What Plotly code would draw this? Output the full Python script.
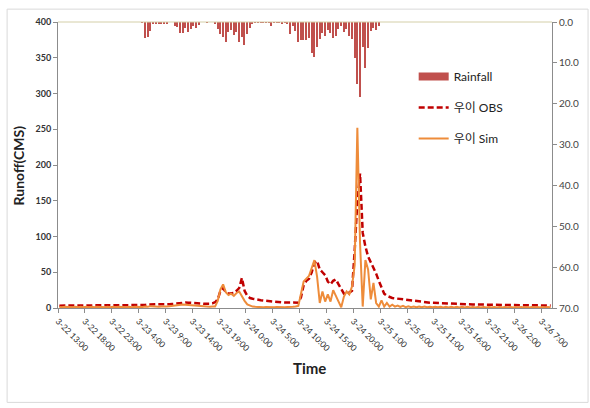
import plotly.graph_objects as go

# ---- data (half-hourly, 3-22 13:00 onward) ----
tick_labels = ["3-22 13:00", "3-22 18:00", "3-22 23:00", "3-23 4:00", "3-23 9:00",
               "3-23 14:00", "3-23 19:00", "3-24 0:00", "3-24 5:00", "3-24 10:00",
               "3-24 15:00", "3-24 20:00", "3-25 1:00", "3-25 6:00", "3-25 11:00",
               "3-25 16:00", "3-25 21:00", "3-26 2:00", "3-26 7:00"]

rainfall = (
    [0] * 30 +
    [0, 0.2, 3.9, 3.6, 2.2, 0.5, 0.4, 0.6, 0.5, 0.6] +
    [0.4, 0, 0, 1.0, 1.2, 2.8, 2.6, 1.5, 2.4, 1.8] +
    [1.0, 1.5, 0.8, 0, 0, 0.1, 0, 0, 0.5, 1.8] +
    [3.0, 3.6, 4.8, 2.4, 2.0, 3.2, 2.4, 5.0, 3.6, 5.6] +
    [3.0, 1.4, 0.5, 0.2, 0.2, 0.2, 0.1, 0.2, 0.2, 1.0] +
    [0.2, 0.2, 0.1, 0.3, 0.1, 0.3, 3.0, 1.0, 2.2, 4.9] +
    [4.5, 4.5, 4.5, 4.0, 7.5, 8.6, 6.1, 4.2, 2.6, 3.4] +
    [2.0, 2.6, 3.8, 3.4, 1.8, 1.0, 2.4, 1.8, 3.4, 4.2] +
    [8.7, 15.1, 18.4, 6.1, 11.2, 6.3, 2.2, 1.4, 2.0, 1.0] +
    [0] * 64
)

obs = (
    [3.3] * 10 +
    [3.2] * 10 +
    [3.3, 3.3, 3.2, 3.2, 3.2, 3.3, 3.3, 3.4, 3.4, 3.5] +
    [3.6, 3.8, 4.2, 4.8, 5.2, 5.4, 5.3, 5.2, 5.0, 5.0] +
    [5.0, 5.2, 5.6, 6.2, 6.8, 7.3, 7.5, 7.6, 7.5, 7.4] +
    [7.2, 7.0, 6.6, 6.2, 5.8, 5.6, 5.8, 6.5] +
    [8, 12, 24, 28, 22, 20, 20, 21, 24, 28, 42, 24, 17, 14, 13] +
    [12, 11.5, 11, 10.5, 10, 9.5, 9, 8.5, 8.2, 8, 7.8, 7.6, 7.4, 7.2, 7, 7] +
    [7.5, 15, 32, 38, 41, 50, 63, 66, 54, 50, 46, 37, 33, 38, 40, 33, 27, 20, 19, 21, 24] +
    [80, 150, 188, 105, 86, 72, 64, 57, 48, 38, 28, 20, 17, 15, 14] +
    [13.5, 13, 12, 11.5, 11, 10.5, 10, 9.5, 9, 8.7, 8.4, 8, 7.8, 7.5, 7.2] +
    [7, 6.8, 6.6, 6.4, 6.2, 6, 5.8, 5.7, 5.6, 5.5, 5.4, 5.3, 5.2, 5.1, 5, 4.9, 4.8, 4.8, 4.7, 4.6] +
    [4.6, 4.5, 4.5, 4.4, 4.4, 4.3, 4.3, 4.2, 4.2, 4.1, 4.1, 4.0, 4.0, 3.9, 3.9, 3.8, 3.8,
     3.7, 3.7, 3.6, 3.6, 3.5, 3.5, 3.5]
)

sim = (
    [1.5, 1.0, 1.8, 1.2, 1.6, 1.0, 1.8, 1.1, 1.6, 1.0] +
    [1.7, 1.1, 1.6, 1.0, 1.8, 1.2, 1.6, 1.0, 1.7, 1.1] +
    [1.6, 1.0, 1.8, 1.2, 1.6, 1.0, 1.7, 1.1, 1.6, 1.2] +
    [1.8, 1.4, 2.2, 1.8, 2.6, 2.0, 2.4, 1.8, 2.2, 1.8] +
    [2.0, 2.4, 3.0, 3.6, 4.2, 4.8, 5.0, 4.6, 4.2, 4.0] +
    [3.6, 3.0, 2.6, 2.2, 2.0, 1.8, 1.8, 2.0] +
    [2, 10, 26, 33, 22, 18, 20, 17, 21, 23, 16, 10, 5, 3, 2] +
    [1.6, 1.2, 1.6, 1.0, 1.5, 1.1, 1.6, 1.0, 1.5, 1.1, 1.6, 1.0, 1.5, 1.2, 1.6, 2.0] +
    [3, 20, 37, 41, 45, 56, 67, 44, 7, 23, 9, 19, 9, 25, 16, 9, 1, 16, 23, 19, 30] +
    [60, 252, 91, 2, 67, 54, 12, 35, 7, 2, 10.6, 2, 7, 2, 4.6] +
    [2, 3.5, 1.5, 3, 1.2, 2.5, 1.2, 2.2, 1.0, 2.0, 1.0, 2.0, 1.0, 1.8, 1.0] +
    [1.8, 1.0, 1.8, 0.9, 1.7, 0.9, 1.7, 0.9, 1.6, 0.9, 1.6, 0.9, 1.6, 0.8, 1.5, 0.8, 1.5, 0.8, 1.5, 0.8] +
    [1.5, 0.8, 1.5, 0.8, 1.4, 0.8, 1.4, 0.8, 1.4, 0.8, 1.4, 0.8, 1.4, 0.8, 1.4, 0.8, 1.4, 0.8,
     1.4, 0.8, 1.4, 0.8, 1.4, 0.8]
)

idx = list(range(len(obs)))
tick_pos = [-0.5 + 10 * k for k in range(len(tick_labels))]

FONT = "Lato, 'Noto Sans CJK KR', sans-serif"
RAIN_COLOR = "#C0504D"

fig = go.Figure()
fig.add_trace(go.Bar(x=idx, y=rainfall, yaxis="y2", name="Rainfall",
                     marker=dict(color=RAIN_COLOR, line=dict(width=0)), width=0.5,
                     showlegend=False))
# legend entry for rainfall drawn as a wide block
fig.add_trace(go.Scatter(x=[None], y=[None], mode="lines", name="Rainfall",
                         line=dict(color=RAIN_COLOR, width=8), legendgroup="a"))
fig.add_trace(go.Scatter(x=idx, y=obs, mode="lines", name="우이 OBS",
                         line=dict(color="#C00000", width=2.5, dash="6px,3px"),
                         legendgroup="b"))
fig.add_trace(go.Scatter(x=idx, y=sim, mode="lines", name="우이 Sim",
                         line=dict(color="#EE8C3A", width=2),
                         legendgroup="c"))

fig.update_layout(
    width=590, height=408,
    margin=dict(l=58, r=38, t=22, b=100),
    paper_bgcolor="white", plot_bgcolor="white",
    font=dict(family=FONT, color="#333333"),
    showlegend=True,
    legend=dict(x=0.72, y=0.86, xanchor="left", yanchor="top",
                font=dict(size=12, color="#222222", family=FONT),
                bgcolor="rgba(0,0,0,0)", tracegroupgap=12, traceorder="grouped",
                itemwidth=30),
    xaxis=dict(range=[-0.5, len(obs) - 0.5], tickmode="array", tickvals=tick_pos,
               ticktext=tick_labels, tickangle=45,
               tickfont=dict(size=8.5, color="#2a2a2a"),
               showline=True, linecolor="#8C8C8C", linewidth=1, ticks="outside",
               ticklen=4, tickcolor="#8C8C8C", showgrid=False, zeroline=False,
               automargin=False),
    yaxis=dict(range=[0, 400], tickvals=list(range(0, 401, 50)),
               tickfont=dict(size=9, color="#333333", weight="bold"),
               showline=True, linecolor="#8C8C8C", linewidth=1, ticks="outside",
               ticklen=4, tickcolor="#8C8C8C", showgrid=False, zeroline=False,
               automargin=False),
    yaxis2=dict(range=[70, 0], overlaying="y", side="right",
                tickvals=list(range(0, 71, 10)), tickformat=".1f",
                tickfont=dict(size=10, color="#444444"),
                showline=True, linecolor="#8C8C8C", linewidth=1, ticks="outside",
                ticklen=4, tickcolor="#8C8C8C", showgrid=False, zeroline=False,
                automargin=False),
    bargap=0,
    shapes=[
        dict(type="line", xref="paper", yref="paper", x0=0, x1=1, y0=1, y1=1,
             line=dict(color="#D4CFA8", width=1)),
        dict(type="rect", xref="paper", yref="paper", x0=-0.103, x1=1.073,
             y0=-0.33, y1=1.045, line=dict(color="#D9D9D9", width=1)),
    ],
    annotations=[
        dict(text="<b>Runoff(CMS)</b>", xref="paper", yref="paper", x=-0.08, y=0.5,
             xanchor="center", yanchor="middle", textangle=-90, showarrow=False,
             font=dict(size=14, color="#222222", family=FONT)),
        dict(text="<b>Time</b>", xref="paper", yref="paper", x=0.51, y=-0.21,
             xanchor="center", yanchor="middle", showarrow=False,
             font=dict(size=15, color="#222222", family=FONT)),
    ],
)

fig.write_html("out.html", config={"displayModeBar": False},
               post_script="document.body.style.margin='0';document.body.style.overflow='hidden';")
